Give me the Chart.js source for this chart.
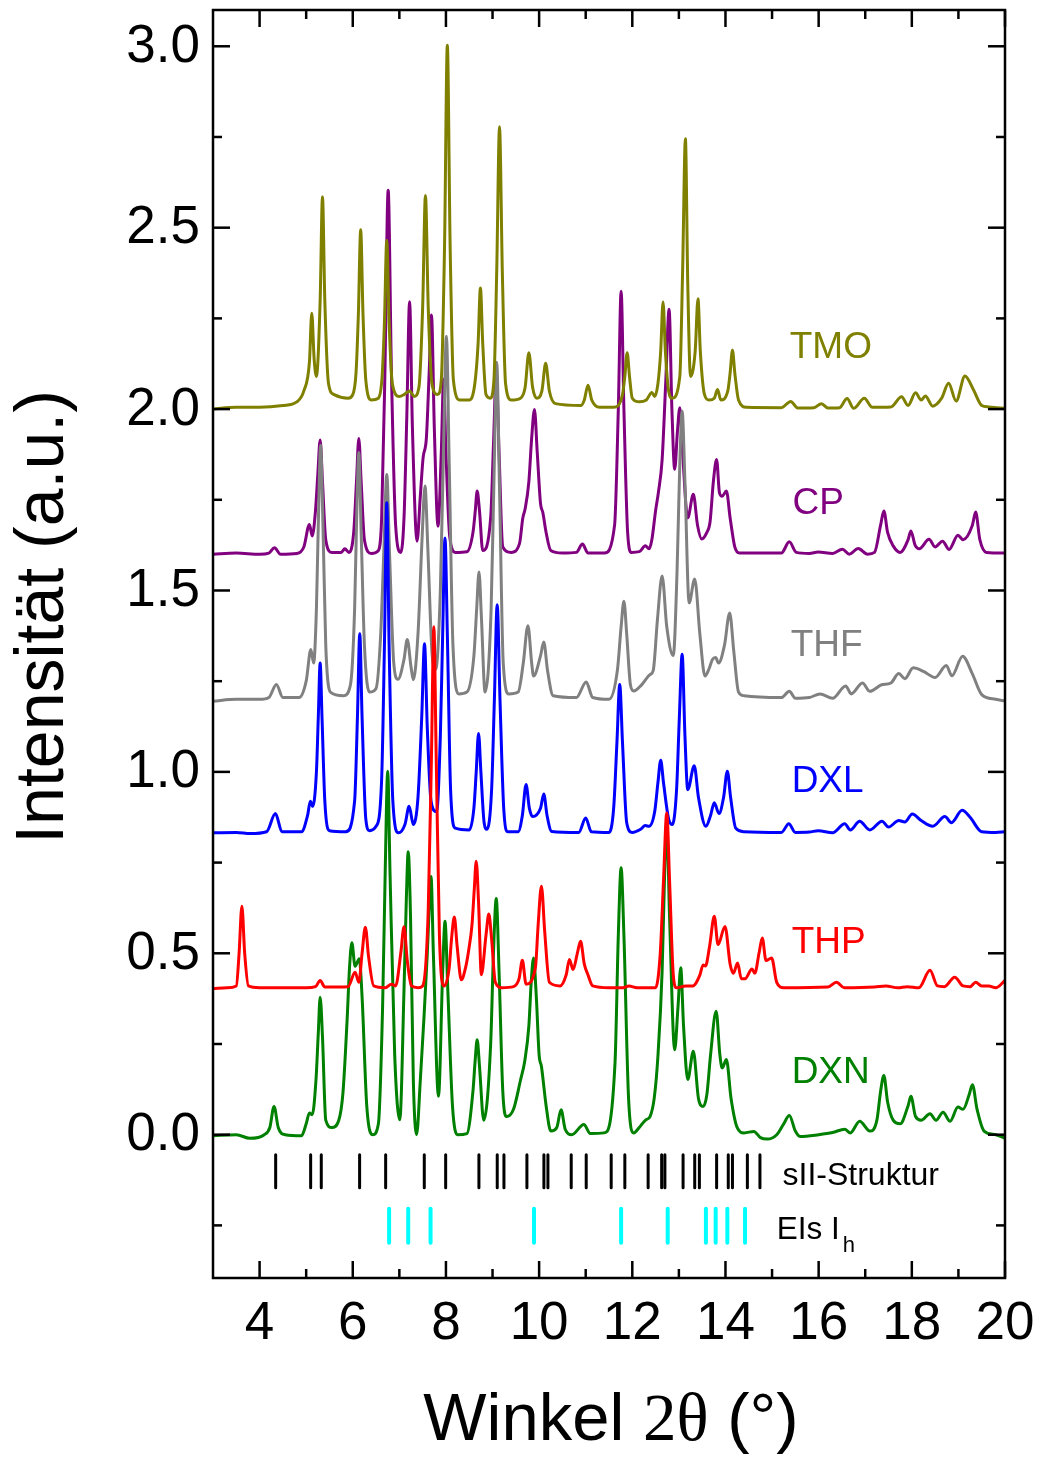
<!DOCTYPE html>
<html>
<head>
<meta charset="utf-8">
<title>XRD Hydrate</title>
<script src="https://cdn.jsdelivr.net/npm/chart.js@4.4.1/dist/chart.umd.min.js"></script>
<style>
  body { margin: 0; background: #fff; }
  #wrap { width: 1039px; height: 1457px; position: relative; }
</style>
</head>
<body>
<div id="wrap"><canvas id="xrdChart"></canvas></div>
<script>
// values: [winkel, intensitaet] incl. the vertical offset of each curve
var tmo = [[3.0,2.0],[3.5,2.005],[4.0,2.005],[4.5,2.01],[4.8,2.02],[4.95,2.05],[5.07,2.13],[5.12,2.264],[5.17,2.14],[5.22,2.09],
  [5.30,2.30],[5.35,2.585],[5.40,2.30],[5.48,2.07],[5.6,2.04],[5.9,2.03],[6.0,2.04],[6.07,2.10],[6.12,2.26],[6.17,2.494],[6.22,2.26],
  [6.28,2.08],[6.4,2.025],[6.55,2.03],[6.63,2.09],[6.68,2.24],[6.73,2.465],[6.78,2.24],[6.85,2.07],[7.0,2.035],[7.1,2.04],[7.22,2.05],
  [7.32,2.035],[7.42,2.06],[7.5,2.28],[7.56,2.589],[7.62,2.28],[7.7,2.07],[7.82,2.04],[7.9,2.08],[7.97,2.45],[8.03,3.003],[8.09,2.45],
  [8.16,2.08],[8.3,2.025],[8.5,2.025],[8.62,2.07],[8.69,2.18],[8.74,2.334],[8.79,2.18],[8.86,2.04],[8.95,2.03],[9.03,2.08],[9.09,2.38],
  [9.15,2.778],[9.21,2.38],[9.28,2.07],[9.4,2.025],[9.6,2.03],[9.7,2.06],[9.78,2.155],[9.86,2.06],[9.95,2.03],[10.06,2.05],[10.14,2.126],
  [10.22,2.05],[10.35,2.015],[10.9,2.01],[10.97,2.025],[11.05,2.066],[11.13,2.025],[11.3,2.005],[11.6,2.005],[11.79,2.04],[11.84,2.09],
  [11.89,2.155],[11.94,2.09],[12.0,2.03],[12.15,2.02],[12.3,2.025],[12.42,2.046],[12.48,2.035],[12.55,2.07],[12.61,2.16],[12.66,2.295],
  [12.71,2.16],[12.78,2.05],[12.86,2.03],[13.02,2.09],[13.08,2.38],[13.14,2.745],[13.19,2.35],[13.25,2.09],[13.35,2.16],[13.41,2.304],
  [13.46,2.16],[13.55,2.04],[13.65,2.025],[13.76,2.03],[13.83,2.054],[13.9,2.025],[14.05,2.05],[14.1,2.10],[14.15,2.162],[14.2,2.10],
  [14.28,2.025],[14.45,2.005],[15.2,2.004],[15.4,2.021],[15.55,2.003],[15.9,2.004],[16.06,2.015],[16.2,2.003],[16.45,2.004],[16.61,2.029],
  [16.75,2.002],[16.98,2.03],[17.15,2.005],[17.55,2.006],[17.78,2.034],[17.92,2.01],[18.08,2.045],[18.2,2.025],[18.29,2.036],[18.45,2.008],
  [18.64,2.03],[18.79,2.071],[18.95,2.022],[19.14,2.091],[19.32,2.054],[19.5,2.01],[19.65,2.006],[20.0,2.002]];

var cp = [[3.0,1.6],[3.5,1.603],[4.0,1.6],[4.2,1.603],[4.32,1.618],[4.45,1.6],[4.8,1.602],[4.95,1.62],[5.07,1.682],[5.13,1.65],
  [5.2,1.72],[5.25,1.82],[5.30,1.915],[5.35,1.80],[5.42,1.64],[5.55,1.605],[5.75,1.605],[5.83,1.615],[5.92,1.605],[6.02,1.66],
  [6.08,1.80],[6.13,1.919],[6.18,1.80],[6.25,1.64],[6.4,1.602],[6.55,1.61],[6.62,1.70],[6.69,2.10],[6.76,2.603],[6.83,2.10],
  [6.92,1.68],[7.03,1.605],[7.1,1.70],[7.16,1.98],[7.22,2.296],[7.28,1.95],[7.38,1.636],[7.45,1.76],[7.51,1.866],[7.58,1.92],
  [7.64,2.1],[7.69,2.259],[7.75,1.95],[7.83,1.677],[7.90,1.88],[7.95,2.082],[8.0,1.88],[8.08,1.65],[8.2,1.605],[8.45,1.607],
  [8.58,1.66],[8.63,1.72],[8.67,1.774],[8.72,1.72],[8.79,1.61],[8.96,1.70],[9.02,1.90],[9.08,2.101],[9.14,1.88],[9.22,1.62],
  [9.4,1.605],[9.58,1.63],[9.65,1.70],[9.70,1.725],[9.78,1.80],[9.84,1.92],[9.90,1.999],[9.96,1.88],[10.03,1.74],[10.08,1.715],
  [10.15,1.66],[10.25,1.61],[10.5,1.603],[10.8,1.605],[10.93,1.628],[11.05,1.603],[11.4,1.603],[11.62,1.68],[11.70,2.0],[11.76,2.325],
  [11.82,2.0],[11.9,1.66],[11.98,1.605],[12.15,1.607],[12.28,1.623],[12.36,1.615],[12.42,1.64],[12.50,1.72],[12.56,1.77],[12.64,1.86],
  [12.72,2.08],[12.79,2.275],[12.85,2.0],[12.91,1.834],[12.97,1.94],[13.02,2.004],[13.08,1.88],[13.19,1.70],[13.31,1.765],[13.4,1.68],
  [13.49,1.642],[13.6,1.66],[13.67,1.69],[13.74,1.80],[13.81,1.861],[13.87,1.77],[13.93,1.76],[14.02,1.774],[14.1,1.70],[14.2,1.62],
  [14.3,1.603],[15.2,1.603],[15.37,1.634],[15.52,1.605],[15.8,1.602],[15.99,1.606],[16.3,1.602],[16.51,1.614],[16.66,1.6],[16.85,1.616],
  [17.05,1.6],[17.2,1.605],[17.33,1.68],[17.40,1.719],[17.48,1.66],[17.6,1.623],[17.75,1.605],[17.92,1.64],[17.98,1.664],[18.07,1.625],
  [18.16,1.615],[18.37,1.641],[18.5,1.62],[18.66,1.636],[18.8,1.613],[18.99,1.652],[19.1,1.64],[19.3,1.68],[19.37,1.716],[19.46,1.64],
  [19.6,1.605],[20.0,1.603]];

var thf = [[3.0,1.195],[3.5,1.2],[4.0,1.2],[4.2,1.205],[4.36,1.241],[4.5,1.205],[4.85,1.205],[5.0,1.25],[5.10,1.337],[5.16,1.30],
  [5.22,1.45],[5.26,1.68],[5.31,1.90],[5.36,1.68],[5.42,1.35],[5.52,1.22],[5.8,1.21],[5.95,1.24],[6.04,1.45],[6.08,1.68],[6.13,1.88],
  [6.18,1.66],[6.25,1.35],[6.36,1.22],[6.5,1.23],[6.6,1.38],[6.67,1.62],[6.73,1.82],[6.79,1.60],[6.88,1.30],[6.97,1.255],[7.1,1.31],
  [7.17,1.365],[7.25,1.29],[7.30,1.254],[7.40,1.38],[7.49,1.65],[7.55,1.788],[7.61,1.62],[7.7,1.33],[7.78,1.282],[7.88,1.50],[7.95,1.90],
  [8.01,2.201],[8.07,1.85],[8.15,1.35],[8.28,1.215],[8.45,1.22],[8.6,1.32],[8.66,1.45],[8.71,1.551],[8.76,1.43],[8.84,1.22],[8.97,1.45],
  [9.03,1.80],[9.09,2.129],[9.15,1.78],[9.23,1.30],[9.35,1.215],[9.55,1.22],[9.66,1.30],[9.76,1.403],[9.84,1.30],[9.88,1.264],
  [10.03,1.32],[10.10,1.358],[10.18,1.28],[10.3,1.21],[10.8,1.205],[11.01,1.248],[11.15,1.205],[11.5,1.2],[11.68,1.28],[11.76,1.40],
  [11.82,1.47],[11.88,1.38],[11.96,1.24],[12.03,1.223],[12.2,1.24],[12.38,1.268],[12.45,1.28],[12.54,1.42],[12.64,1.54],[12.74,1.40],
  [12.88,1.321],[12.96,1.55],[13.02,1.85],[13.07,1.994],[13.13,1.80],[13.22,1.466],[13.34,1.532],[13.45,1.38],[13.56,1.264],[13.65,1.285],
  [13.72,1.31],[13.79,1.315],[13.85,1.30],[13.98,1.35],[14.09,1.438],[14.18,1.33],[14.28,1.22],[14.4,1.21],[15.2,1.205],[15.37,1.222],
  [15.5,1.203],[15.8,1.205],[16.03,1.215],[16.3,1.203],[16.58,1.237],[16.7,1.215],[16.94,1.245],[17.1,1.222],[17.35,1.24],[17.55,1.245],
  [17.72,1.271],[17.85,1.257],[18.03,1.287],[18.25,1.277],[18.5,1.26],[18.74,1.293],[18.86,1.265],[19.09,1.319],[19.3,1.27],[19.5,1.213],
  [19.8,1.2],[20.0,1.195]];

var dxl = [[3.0,0.832],[3.5,0.833],[3.8,0.83],[4.15,0.835],[4.34,0.885],[4.48,0.835],[4.9,0.835],[5.03,0.88],[5.09,0.919],[5.14,0.905],
  [5.22,1.0],[5.26,1.15],[5.30,1.30],[5.34,1.15],[5.40,0.92],[5.5,0.838],[5.85,0.835],[6.04,0.92],[6.1,1.15],[6.15,1.381],[6.2,1.15],
  [6.28,0.87],[6.36,0.838],[6.5,0.85],[6.62,0.98],[6.68,1.35],[6.73,1.742],[6.78,1.35],[6.86,0.92],[6.98,0.832],[7.12,0.855],[7.21,0.905],
  [7.30,0.855],[7.40,0.93],[7.48,1.15],[7.54,1.353],[7.60,1.12],[7.68,0.92],[7.80,0.89],[7.88,1.10],[7.93,1.38],[7.98,1.645],[8.03,1.38],
  [8.10,0.95],[8.2,0.845],[8.5,0.84],[8.60,0.90],[8.65,1.0],[8.70,1.106],[8.75,1.0],[8.82,0.86],[8.88,0.842],[8.98,0.95],[9.04,1.20],
  [9.10,1.461],[9.16,1.20],[9.24,0.9],[9.33,0.835],[9.55,0.835],[9.64,0.88],[9.72,0.965],[9.79,0.90],[9.86,0.877],[10.03,0.90],
  [10.10,0.939],[10.17,0.88],[10.27,0.836],[10.85,0.833],[11.00,0.873],[11.12,0.835],[11.5,0.833],[11.60,0.90],[11.67,1.08],[11.73,1.241],
  [11.79,1.08],[11.88,0.86],[12.0,0.833],[12.18,0.842],[12.28,0.852],[12.36,0.85],[12.48,0.89],[12.55,0.97],[12.61,1.032],[12.67,0.97],
  [12.78,0.87],[12.86,0.855],[12.95,0.95],[13.01,1.15],[13.07,1.324],[13.13,1.10],[13.19,0.951],[13.33,1.017],[13.42,0.93],[13.58,0.85],
  [13.68,0.88],[13.76,0.915],[13.86,0.885],[13.96,0.93],[14.04,1.002],[14.11,0.93],[14.22,0.845],[14.4,0.835],[15.2,0.833],[15.36,0.857],
  [15.5,0.833],[15.8,0.834],[15.99,0.838],[16.3,0.832],[16.56,0.857],[16.68,0.84],[16.88,0.864],[17.1,0.84],[17.36,0.864],[17.5,0.848],
  [17.72,0.866],[17.85,0.862],[18.01,0.884],[18.2,0.866],[18.45,0.85],[18.71,0.877],[18.85,0.86],[19.08,0.894],[19.25,0.875],[19.5,0.835],
  [19.8,0.833],[20.0,0.835]];

var thp = [[3.0,0.403],[3.3,0.405],[3.5,0.41],[3.56,0.50],[3.62,0.63],[3.68,0.50],[3.76,0.41],[4.0,0.405],[4.5,0.405],[5.0,0.405],
  [5.2,0.408],[5.30,0.425],[5.4,0.407],[5.9,0.408],[6.05,0.448],[6.13,0.42],[6.2,0.50],[6.27,0.572],[6.34,0.49],[6.45,0.41],[6.7,0.405],
  [6.83,0.415],[6.92,0.41],[7.03,0.50],[7.10,0.573],[7.17,0.48],[7.26,0.41],[7.4,0.405],[7.5,0.41],[7.62,0.62],[7.69,1.05],[7.74,1.40],
  [7.79,1.05],[7.86,0.55],[7.96,0.41],[8.07,0.46],[8.12,0.54],[8.18,0.60],[8.24,0.52],[8.33,0.427],[8.42,0.46],[8.49,0.51],[8.56,0.58],
  [8.61,0.68],[8.65,0.754],[8.70,0.64],[8.76,0.441],[8.86,0.55],[8.92,0.608],[8.98,0.54],[9.06,0.42],[9.2,0.405],[9.45,0.408],[9.57,0.43],
  [9.64,0.481],[9.72,0.415],[9.92,0.46],[9.98,0.58],[10.05,0.685],[10.12,0.56],[10.22,0.42],[10.45,0.41],[10.58,0.44],[10.65,0.483],
  [10.73,0.455],[10.82,0.50],[10.89,0.533],[10.97,0.47],[11.05,0.44],[11.15,0.41],[11.5,0.405],[11.8,0.405],[11.93,0.41],[12.1,0.405],
  [12.5,0.405],[12.6,0.50],[12.67,0.70],[12.74,0.887],[12.8,0.70],[12.88,0.44],[12.95,0.405],[13.15,0.41],[13.3,0.41],[13.45,0.44],
  [13.52,0.468],[13.57,0.465],[13.66,0.52],[13.76,0.602],[13.84,0.524],[13.99,0.574],[14.1,0.47],[14.17,0.445],[14.26,0.473],[14.34,0.43],
  [14.42,0.43],[14.57,0.457],[14.63,0.445],[14.72,0.50],[14.79,0.542],[14.87,0.48],[14.99,0.487],[15.1,0.42],[15.25,0.405],[16.2,0.407],
  [16.38,0.42],[16.55,0.405],[17.2,0.407],[17.44,0.41],[17.7,0.405],[17.9,0.408],[18.15,0.405],[18.39,0.453],[18.55,0.41],[18.7,0.408],
  [18.92,0.434],[19.1,0.41],[19.25,0.408],[19.37,0.42],[19.5,0.41],[19.65,0.41],[19.8,0.405],[20.0,0.425]];

var dxn = [[3.0,-0.003],[3.5,0.0],[3.79,-0.01],[4.1,0.0],[4.22,0.02],[4.31,0.078],[4.4,0.02],[4.55,0.0],[4.9,-0.003],[5.0,0.03],
  [5.07,0.06],[5.13,0.055],[5.21,0.15],[5.26,0.28],[5.30,0.379],[5.35,0.27],[5.42,0.04],[5.55,0.02],[5.7,0.04],[5.79,0.116],[5.88,0.32],
  [5.93,0.46],[5.98,0.529],[6.05,0.464],[6.14,0.485],[6.2,0.38],[6.3,0.08],[6.43,0.0],[6.55,0.03],[6.64,0.35],[6.70,0.75],[6.75,1.002],
  [6.80,0.72],[6.9,0.22],[7.01,0.041],[7.1,0.40],[7.15,0.65],[7.19,0.78],[7.24,0.60],[7.3,0.15],[7.37,0.0],[7.45,0.15],[7.53,0.326],
  [7.6,0.50],[7.64,0.62],[7.68,0.712],[7.73,0.50],[7.84,0.106],[7.93,0.45],[7.98,0.588],[8.04,0.40],[8.14,0.08],[8.25,0.0],[8.45,0.003],
  [8.58,0.12],[8.63,0.21],[8.67,0.262],[8.72,0.19],[8.81,0.04],[8.96,0.25],[9.02,0.50],[9.08,0.651],[9.14,0.45],[9.22,0.12],[9.3,0.05],
  [9.45,0.07],[9.6,0.15],[9.69,0.202],[9.78,0.30],[9.83,0.42],[9.88,0.487],[9.94,0.38],[10.0,0.22],[10.05,0.188],[10.15,0.08],[10.25,0.01],
  [10.38,0.02],[10.47,0.069],[10.56,0.015],[10.7,0.0],[10.96,0.028],[11.1,0.003],[11.4,0.005],[11.63,0.20],[11.70,0.55],[11.76,0.736],
  [11.82,0.55],[11.92,0.10],[12.03,0.005],[12.15,0.02],[12.29,0.041],[12.38,0.05],[12.47,0.10],[12.55,0.216],[12.64,0.45],[12.69,0.70],
  [12.74,0.86],[12.8,0.60],[12.91,0.234],[12.98,0.35],[13.04,0.46],[13.1,0.30],[13.19,0.152],[13.31,0.23],[13.42,0.10],[13.52,0.078],
  [13.6,0.11],[13.68,0.22],[13.80,0.34],[13.88,0.22],[13.93,0.184],[14.02,0.207],[14.12,0.10],[14.25,0.02],[14.4,0.005],[14.61,0.009],
  [14.75,-0.008],[14.9,-0.012],[15.1,0.0],[15.25,0.03],[15.37,0.053],[15.5,0.01],[15.6,-0.005],[16.0,0.0],[16.3,0.006],[16.56,0.015],
  [16.68,0.005],[16.88,0.037],[17.1,0.01],[17.25,0.04],[17.33,0.12],[17.40,0.163],[17.48,0.09],[17.6,0.04],[17.75,0.03],[17.92,0.08],
  [17.98,0.106],[18.08,0.05],[18.2,0.04],[18.39,0.058],[18.52,0.04],[18.67,0.062],[18.82,0.037],[18.99,0.076],[19.1,0.07],[19.23,0.11],
  [19.30,0.138],[19.4,0.07],[19.55,0.01],[19.8,0.0],[20.0,-0.01]];

// reflex positions (2theta)
var siiPeaks = [4.345, 5.096, 5.324, 6.147, 6.706, 7.535, 7.994, 8.708, 9.101, 9.245, 9.738, 10.103, 10.189, 10.689,
  11.011, 11.547, 11.84, 12.34, 12.63, 12.70, 13.09, 13.34, 13.44, 13.81, 14.06, 14.15, 14.47, 14.74];
var icePeaks = [6.78, 7.19, 7.67, 9.89, 11.76, 12.76, 13.58, 13.79, 14.04, 14.42];

var seriesNames = ['TMO', 'CP', 'THF', 'DXL', 'THP', 'DXN'];
var xTicks = [4, 6, 8, 10, 12, 14, 16, 18, 20];
var xMinorTicks = [5, 7, 9, 11, 13, 15, 17, 19];
var yTicks = [0, 0.5, 1.0, 1.5, 2.0, 2.5, 3.0];
var yMinorTicks = [-0.25, 0.25, 0.75, 1.25, 1.75, 2.25, 2.75];

var colors = {TMO: '#808000', CP: '#800080', THF: '#808080', DXL: '#0000ff', THP: '#ff0000', DXN: '#008000'};
var drawOrder = {THP: 1, DXL: 2, TMO: 3, THF: 4, CP: 5, DXN: 6};
var curves = {TMO: tmo, CP: cp, THF: thf, DXL: dxl, THP: thp, DXN: dxn};

function toPoints(arr) {
  return arr.map(function(p){ return {x: p[0], y: p[1]}; });
}

function sticks(positions, y1, y2) {
  var out = [];
  positions.forEach(function(p){
    out.push({x: p, y: y1}, {x: p, y: y2}, {x: p, y: null});
  });
  return out;
}

var datasets = seriesNames.map(function(name){
  return {
    label: name,
    data: toPoints(curves[name]),
    borderColor: colors[name],
    borderWidth: 3,
    pointRadius: 0,
    fill: false,
    tension: 0.4,
    cubicInterpolationMode: 'monotone',
    order: drawOrder[name]
  };
});

datasets.push({
  label: 'sII-Struktur',
  data: sticks(siiPeaks, -0.055, -0.146),
  borderColor: '#000000',
  borderWidth: 3,
  borderCapStyle: 'round',
  pointRadius: 0,
  tension: 0,
  spanGaps: false,
  order: 7
});
datasets.push({
  label: 'EIs Ih',
  data: sticks(icePeaks, -0.204, -0.298),
  borderColor: '#00ffff',
  borderWidth: 4,
  borderCapStyle: 'round',
  pointRadius: 0,
  tension: 0,
  spanGaps: false,
  order: 8
});

// label anchors (data coords, left / baseline)
var labelPos = {TMO: [15.38, 2.142], CP: [15.44, 1.710], THF: [15.40, 1.319], DXL: [15.42, 0.945], THP: [15.42, 0.501], DXN: [15.42, 0.143]};

var SANS = '"Liberation Sans", Arial, sans-serif';
var SERIF = '"Liberation Serif", "Times New Roman", serif';

var framePlugin = {
  id: 'frameAndText',
  afterDraw: function(chart) {
    var ctx = chart.ctx, a = chart.chartArea;
    var xs = chart.scales.x, ys = chart.scales.y;
    ctx.save();
    ctx.strokeStyle = '#000';
    ctx.lineWidth = 2.5;
    ctx.strokeRect(a.left, a.top, a.right - a.left, a.bottom - a.top);

    function seg(x1, y1, x2, y2) { ctx.beginPath(); ctx.moveTo(x1, y1); ctx.lineTo(x2, y2); ctx.stroke(); }
    // inward ticks on all four sides
    xTicks.forEach(function(v){ var p = xs.getPixelForValue(v); seg(p, a.bottom, p, a.bottom - 17); seg(p, a.top, p, a.top + 17); });
    xMinorTicks.forEach(function(v){ var p = xs.getPixelForValue(v); seg(p, a.bottom, p, a.bottom - 9); seg(p, a.top, p, a.top + 9); });
    yTicks.forEach(function(v){ var p = ys.getPixelForValue(v); seg(a.left, p, a.left + 17, p); seg(a.right, p, a.right - 17, p); });
    yMinorTicks.forEach(function(v){ var p = ys.getPixelForValue(v); seg(a.left, p, a.left + 9, p); seg(a.right, p, a.right - 9, p); });

    // tick labels
    ctx.fillStyle = '#000';
    ctx.font = '53px ' + SANS;
    ctx.textAlign = 'center';
    ctx.textBaseline = 'middle';
    xTicks.forEach(function(v){ ctx.fillText(String(v), xs.getPixelForValue(v), a.bottom + 46); });
    ctx.textAlign = 'right';
    yTicks.forEach(function(v){ ctx.fillText(v.toFixed(1), a.left - 13, ys.getPixelForValue(v) + 1); });

    // axis titles
    ctx.save();
    ctx.translate(63, 617);
    ctx.rotate(-Math.PI / 2);
    ctx.textAlign = 'center';
    ctx.textBaseline = 'alphabetic';
    ctx.font = '68px ' + SANS;
    ctx.fillText('Intensität (a.u.)', 0, 0);
    ctx.restore();

    var parts = [['Winkel ', SANS], ['2θ', SERIF], [' (°)', SANS]];
    var total = 0;
    parts.forEach(function(p){ ctx.font = '67px ' + p[1]; total += ctx.measureText(p[0]).width; });
    var cx = 611 - total / 2;
    ctx.textAlign = 'left';
    ctx.textBaseline = 'alphabetic';
    parts.forEach(function(p){ ctx.font = '67px ' + p[1]; ctx.fillText(p[0], cx, 1440); cx += ctx.measureText(p[0]).width; });

    // curve labels
    ctx.font = '37px ' + SANS;
    seriesNames.forEach(function(name){
      ctx.fillStyle = colors[name];
      ctx.fillText(name, xs.getPixelForValue(labelPos[name][0]), ys.getPixelForValue(labelPos[name][1]));
    });
    ctx.fillStyle = '#000';
    ctx.font = '32px ' + SANS;
    ctx.fillText('sII-Struktur', xs.getPixelForValue(15.225), ys.getPixelForValue(-0.138));
    var ex = xs.getPixelForValue(15.10), ey = ys.getPixelForValue(-0.288);
    ctx.font = '31.5px ' + SANS;
    ctx.fillText('EIs I', ex, ey);
    var w = ctx.measureText('EIs I').width;
    ctx.font = '22px ' + SANS;
    ctx.fillText('h', ex + w + 3, ey + 13);
    ctx.restore();
  }
};

var ctx = document.getElementById('xrdChart').getContext('2d');
var xrdChart = new Chart(ctx, {
  type: 'line',
  data: { datasets: datasets },
  options: {
    responsive: true,
    maintainAspectRatio: false,
    animation: false,
    devicePixelRatio: 1,
    layout: { padding: { left: 213, top: 10, right: 34, bottom: 179 } },
    plugins: { legend: { display: false }, tooltip: { enabled: false } },
    scales: {
      x: { type: 'linear', min: 3, max: 20, display: false },
      y: { type: 'linear', min: -0.395, max: 3.1, display: false }
    }
  },
  plugins: [framePlugin]
});
</script>
</body>
</html>
